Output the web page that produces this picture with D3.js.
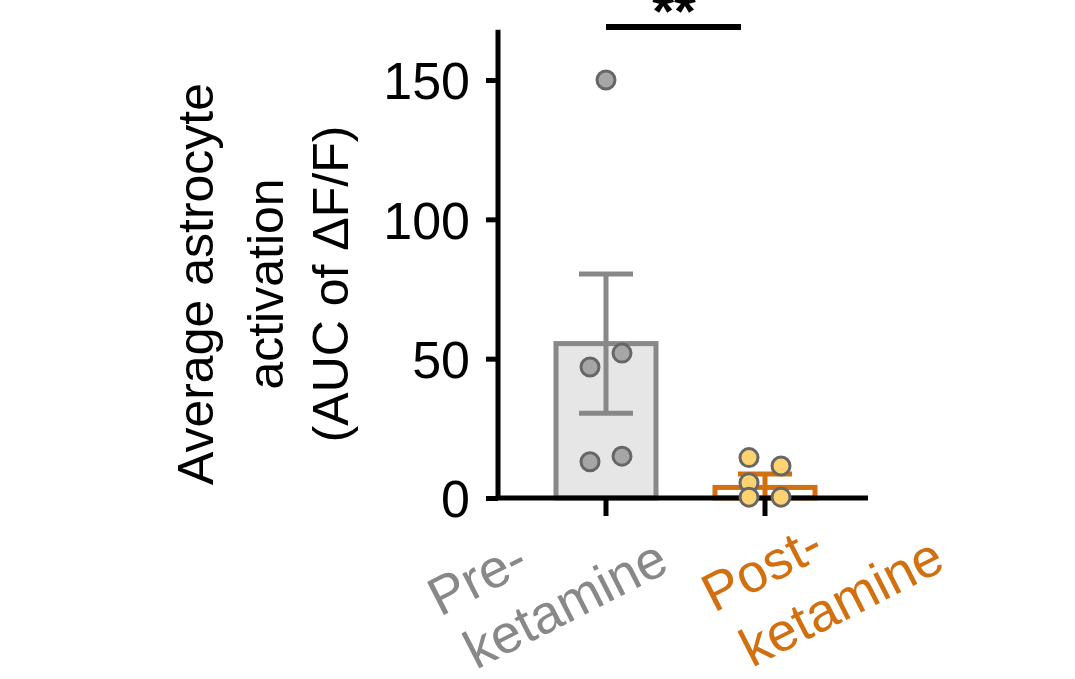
<!DOCTYPE html>
<html><head><meta charset="utf-8">
<script src="https://cdn.jsdelivr.net/npm/d3@7"></script>
<style>body{margin:0;background:#fff}text{font-family:"Liberation Sans",Arial,sans-serif}</style>
</head><body>
<svg id="chart" width="1075" height="679"></svg>
<script>
var groups = ["Pre", "Post"];
var means = [55.4, 3.8];
var sems = [25, 4.8];
var prePoints = [150, 47, 52, 13, 15];
var postPoints = [14.5, 11.5, 5.5, 0.3, 0.3];
var yTicks = [0, 50, 100, 150];

var svg = d3.select('#chart');
var y = d3.scaleLinear().domain([0, 150]).range([498, 80]);
var x = d3.scalePoint().domain(groups).range([606, 765]);
var barW = 100;
var colors = {Pre: "#888888", Post: "#d2700f"};
var fills = {Pre: "#e6e6e6", Post: "#ffffff"};

// bars
groups.forEach((g, i) => {
    var cx = x(g);
    svg.append("rect")
        .attr("x", cx - barW / 2).attr("y", y(means[i]))
        .attr("width", barW).attr("height", y(0) - y(means[i]))
        .attr("fill", fills[g]).attr("stroke", colors[g]).attr("stroke-width", 5);
    svg.append("line").attr("x1", cx).attr("x2", cx)
        .attr("y1", y(Math.max(0, means[i] - sems[i]))).attr("y2", y(means[i] + sems[i]))
        .attr("stroke", colors[g]).attr("stroke-width", 5);
    [means[i] + sems[i], means[i] - sems[i]].forEach(v => {
        if (v < 0) return;
        svg.append("line").attr("x1", cx - 27).attr("x2", cx + 27)
            .attr("y1", y(v)).attr("y2", y(v))
            .attr("stroke", colors[g]).attr("stroke-width", 5);
    });
});

// axes
var yAxis = svg.append("g").attr("transform", "translate(498,0)")
    .call(d3.axisLeft(y).tickValues(yTicks).tickSize(12).tickPadding(16));
yAxis.select(".domain").attr("d", "M0," + y(168) + "V" + y(0)).attr("stroke-width", 5);
yAxis.selectAll(".tick line").attr("stroke-width", 5);
yAxis.selectAll("text").style("font-size", "52px").attr("fill", "#000").attr("dy", "0.36em");

svg.append("line").attr("x1", 496).attr("x2", 868).attr("y1", 498).attr("y2", 498)
    .attr("stroke", "#000").attr("stroke-width", 5);
groups.forEach(g => {
    svg.append("line").attr("x1", x(g)).attr("x2", x(g)).attr("y1", 498).attr("y2", 516)
        .attr("stroke", "#000").attr("stroke-width", 5);
});

// points
var jit = [[0, -16, 16, -16, 16], [-16, 16, -16, -16, 16]];
[prePoints, postPoints].forEach((pts, i) => {
    var cx = x(groups[i]);
    svg.selectAll(null).data(pts).enter().append("circle")
        .attr("cx", (d, j) => cx + jit[i][j]).attr("cy", d => y(d)).attr("r", 9)
        .attr("fill", i == 0 ? "#a6a6a6" : "#fdd270")
        .attr("stroke", "#666").attr("stroke-width", 3);
});

// significance
svg.append("line").attr("x1", 606).attr("x2", 741).attr("y1", 27).attr("y2", 27)
    .attr("stroke", "#000").attr("stroke-width", 6);
svg.append("text").attr("x", 674).attr("y", 30).attr("text-anchor", "middle")
    .style("font-size", "56px").style("font-weight", "bold").text("**");

// y label
var yl = svg.append("text").attr("transform", "translate(283,284) rotate(-90)")
    .attr("text-anchor", "middle").style("font-size", "50px").attr("fill", "#000");
[["Average astrocyte", -70], ["activation", 0], ["(AUC of ΔF/F)", 65]].forEach(d => {
    yl.append("tspan").attr("x", 0).attr("y", d[1]).text(d[0]);
});

// x labels
function xLabel(lines, pts, color) {
    lines.forEach((t, i) => {
        svg.append("text")
            .attr("transform", "translate(" + pts[i][0] + "," + pts[i][1] + ") rotate(-27)")
            .style("font-size", "54px").attr("fill", color).text(t);
    });
}
xLabel(["Pre-", "ketamine"], [[440, 617], [476, 670]], colors.Pre);
xLabel(["Post-", "ketamine"], [[714, 613], [752, 668]], colors.Post);
</script>
</body></html>
